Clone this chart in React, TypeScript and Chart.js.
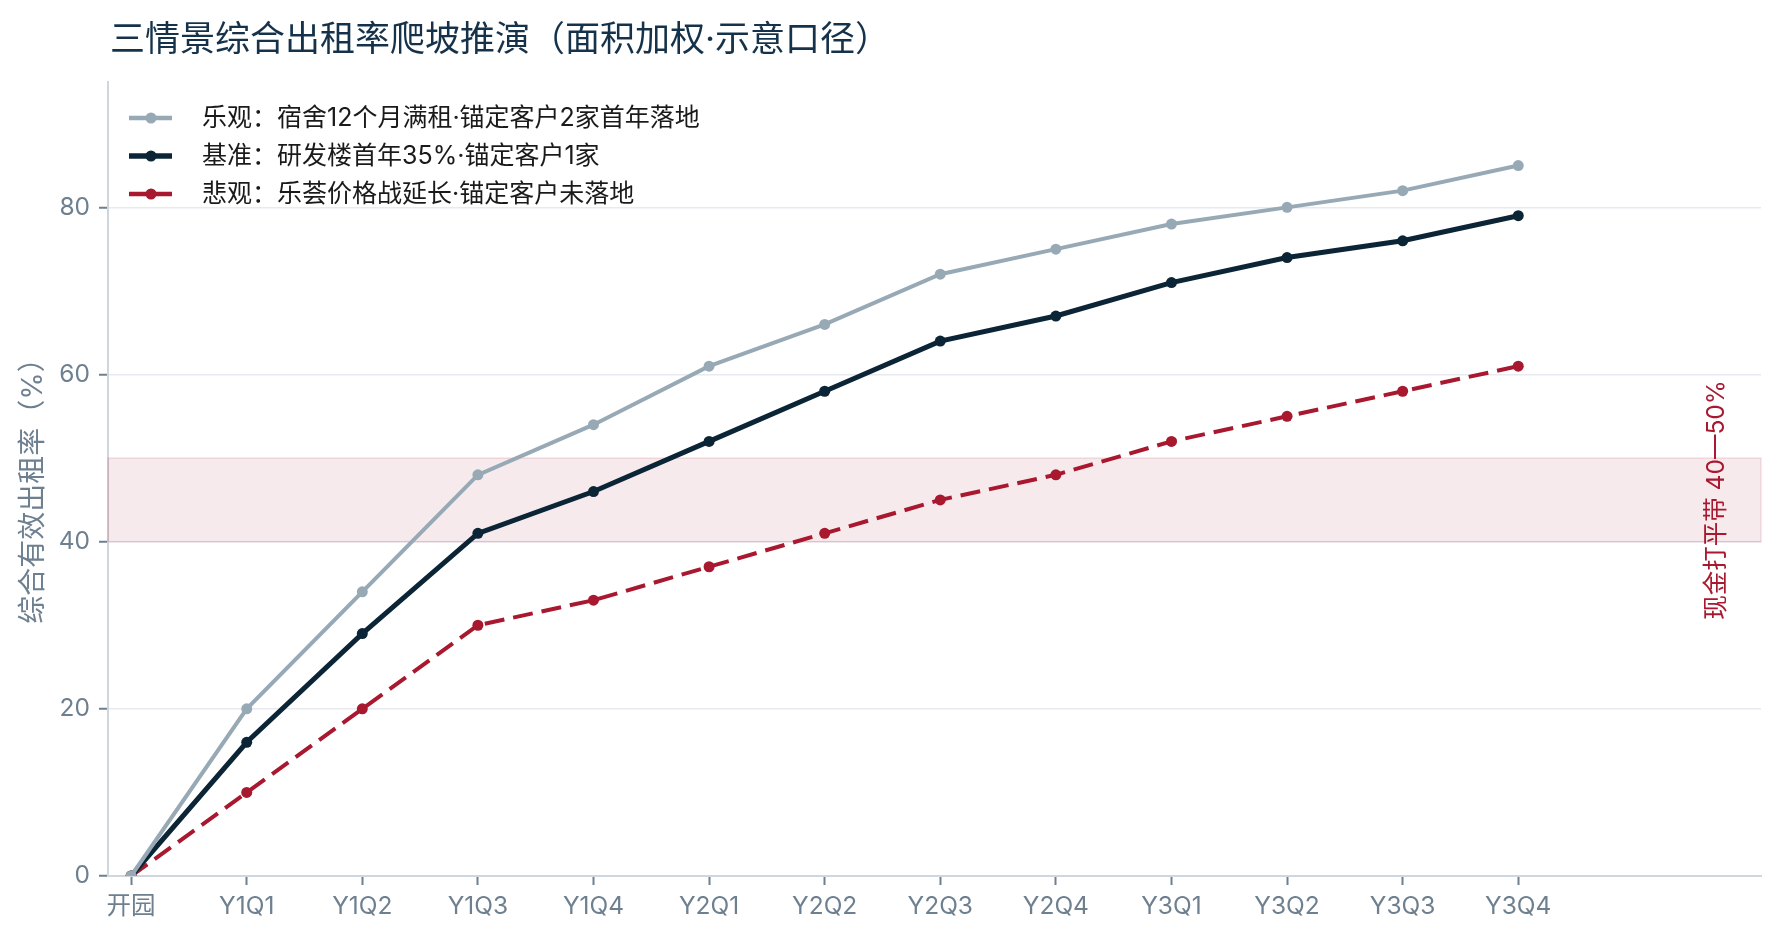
import React, { useEffect, useRef } from 'react';
import { Chart, registerables } from 'chart.js';

Chart.register(...registerables);

// quarters since park opening
const categories = ['开园', 'Y1Q1', 'Y1Q2', 'Y1Q3', 'Y1Q4', 'Y2Q1', 'Y2Q2', 'Y2Q3', 'Y2Q4', 'Y3Q1', 'Y3Q2', 'Y3Q3', 'Y3Q4'];
const optimistic = [0, 20, 34, 48, 54, 61, 66, 72, 75, 78, 80, 82, 85];
const baseline = [0, 16, 29, 41, 46, 52, 58, 64, 67, 71, 74, 76, 79];
const pessimistic = [0, 10, 20, 30, 33, 37, 41, 45, 48, 52, 55, 58, 61];
const seriesLabels = [
  '乐观：宿舍12个月满租·锚定客户2家首年落地',
  '基准：研发楼首年35%·锚定客户1家',
  '悲观：乐荟价格战延长·锚定客户未落地',
];
const yTicks = [0, 20, 40, 60, 80];
const breakEvenBand = [40, 50];

const chartTitle = '三情景综合出租率爬坡推演（面积加权·示意口径）';
const yAxisTitle = '综合有效出租率（%）';
const bandLabel = '现金打平带 40—50%';

const FONT = "Inter, 'Noto Sans CJK SC', sans-serif";
const GRAY = '#98a9b6';
const NAVY = '#0b2536';
const RED = '#a8182f';
const TICK = '#6e8090';

const toPoints = (vals: number[]) => vals.map((y, i) => ({ x: i, y }));

const overlayPlugin = {
  id: 'overlay',
  beforeDatasetsDraw: (chart: Chart) => {
    const { ctx, chartArea, scales } = chart;
    const yTop = scales.y.getPixelForValue(breakEvenBand[1]);
    const yBot = scales.y.getPixelForValue(breakEvenBand[0]);
    ctx.save();
    ctx.fillStyle = 'rgba(168, 24, 47, 0.09)';
    ctx.fillRect(chartArea.left, yTop, chartArea.right - chartArea.left, yBot - yTop);
    ctx.strokeStyle = 'rgba(168, 24, 47, 0.13)';
    ctx.lineWidth = 1.5;
    ctx.strokeRect(chartArea.left, yTop, chartArea.right - chartArea.left, yBot - yTop);
    ctx.restore();
  },
  afterDraw: (chart: Chart) => {
    const { ctx, chartArea } = chart;
    ctx.save();

    // title
    ctx.fillStyle = '#15324a';
    ctx.font = `35px ${FONT}`;
    ctx.textBaseline = 'middle';
    ctx.textAlign = 'left';
    ctx.fillText(chartTitle, 110, 40);

    // legend
    chart.data.datasets.forEach((ds: any, i: number) => {
      const y = 118 + i * 38;
      ctx.save();
      ctx.strokeStyle = ds.borderColor;
      ctx.lineWidth = ds.borderWidth + 0.5;
      ctx.beginPath();
      ctx.moveTo(129, y);
      ctx.lineTo(172, y);
      ctx.stroke();
      ctx.fillStyle = ds.borderColor;
      ctx.beginPath();
      ctx.arc(151, y, 5.5, 0, Math.PI * 2);
      ctx.fill();
      ctx.restore();
      ctx.fillStyle = '#1a1a1a';
      ctx.font = `25px ${FONT}`;
      ctx.textBaseline = 'middle';
      ctx.fillText(ds.label, 202, y);
    });

    // y axis title
    ctx.save();
    ctx.translate(34, 484);
    ctx.rotate(-Math.PI / 2);
    ctx.fillStyle = TICK;
    ctx.font = `28px ${FONT}`;
    ctx.textAlign = 'center';
    ctx.textBaseline = 'middle';
    ctx.fillText(yAxisTitle, 0, 0);
    ctx.restore();

    // band label on the right
    ctx.save();
    ctx.translate(chartArea.right - 44, 500);
    ctx.rotate(-Math.PI / 2);
    ctx.fillStyle = RED;
    ctx.font = `24.5px ${FONT}`;
    ctx.textAlign = 'center';
    ctx.textBaseline = 'middle';
    ctx.fillText(bandLabel, 0, 0);
    ctx.restore();

    ctx.restore();
  },
};

export default function App() {
  const canvasRef = useRef<HTMLCanvasElement>(null);

  useEffect(() => {
    if (!canvasRef.current) return;
    const chart = new Chart(canvasRef.current, {
      type: 'line',
      data: {
        datasets: [
          {
            label: seriesLabels[0],
            data: toPoints(optimistic),
            borderColor: GRAY,
            backgroundColor: GRAY,
            borderWidth: 4,
            pointRadius: 5.5,
            pointBackgroundColor: GRAY,
            pointBorderWidth: 0,
            tension: 0,
          },
          {
            label: seriesLabels[1],
            data: toPoints(baseline),
            borderColor: NAVY,
            backgroundColor: NAVY,
            borderWidth: 5,
            pointRadius: 5.5,
            pointBackgroundColor: NAVY,
            pointBorderWidth: 0,
            tension: 0,
          },
          {
            label: seriesLabels[2],
            data: toPoints(pessimistic),
            borderColor: RED,
            backgroundColor: RED,
            borderWidth: 4,
            borderDash: [20, 9],
            pointRadius: 5.5,
            pointBackgroundColor: RED,
            pointBorderWidth: 0,
            tension: 0,
          },
        ],
      },
      options: {
        responsive: true,
        maintainAspectRatio: false,
        animation: false,
        layout: { padding: { top: 82, right: 18, left: 0, bottom: 0 } },
        plugins: {
          legend: { display: false },
          tooltip: { enabled: false },
          title: { display: false },
        },
        scales: {
          x: {
            type: 'linear',
            min: -0.2,
            max: 14.1,
            afterFit: (s: any) => { s.height = 64; },
            afterBuildTicks: (s: any) => { s.ticks = categories.map((_, i) => ({ value: i })); },
            border: { display: true, color: '#cfd6de', width: 2 },
            grid: { drawOnChartArea: false, tickLength: 9, tickColor: TICK, tickWidth: 2 },
            ticks: {
              color: TICK,
              font: { family: FONT, size: 24.5 },
              padding: 7,
              maxRotation: 0,
              autoSkip: false,
              callback: (v: any) => categories[v] ?? '',
            },
          },
          y: {
            min: 0,
            max: 95,
            afterFit: (s: any) => { s.width = 108; },
            afterBuildTicks: (s: any) => { s.ticks = yTicks.map(v => ({ value: v })); },
            border: { display: true, color: '#cfd6de', width: 2 },
            grid: {
              color: (c: any) => (c.tick && c.tick.value === 0 ? 'rgba(0,0,0,0)' : '#e8eaef'),
              lineWidth: 1.5,
              tickLength: 9,
              tickColor: TICK,
              tickWidth: 2,
            },
            ticks: {
              color: TICK,
              font: { family: FONT, size: 24.5 },
              padding: 9,
            },
          },
        },
      },
      plugins: [overlayPlugin],
    });
    return () => chart.destroy();
  }, []);

  return (
    <div style={{ position: 'fixed', left: 0, top: 0, width: 1779, height: 940, background: '#fff' }}>
      <canvas ref={canvasRef}></canvas>
    </div>
  );
}
